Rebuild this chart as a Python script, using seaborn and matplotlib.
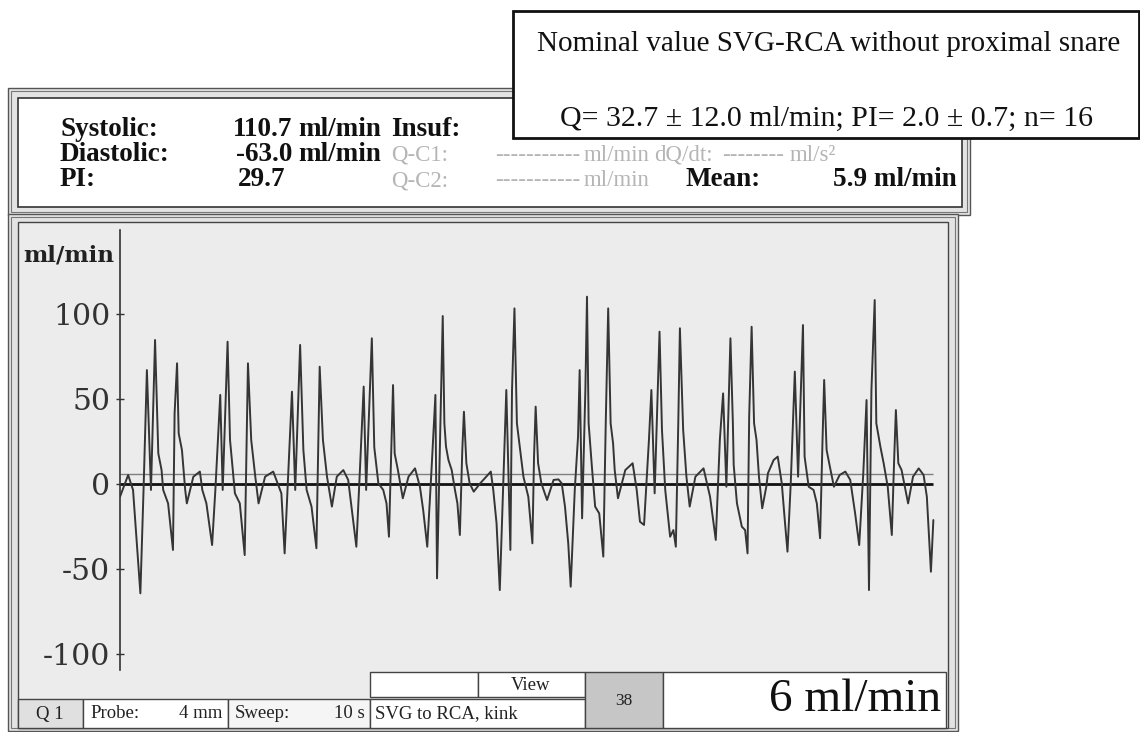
import numpy as np
import pandas as pd
import seaborn as sns
import matplotlib
matplotlib.use("Agg")
import matplotlib.pyplot as plt
from matplotlib.patches import Rectangle
from matplotlib.transforms import Bbox, TransformedBbox

# flow trace (10 s sweep)
time_s = [
    0.00, 0.10, 0.16, 0.25, 0.29, 0.33, 0.37, 0.38, 0.43, 0.45, 0.47, 0.51, 0.53, 0.59, 0.65, 0.67,
    0.70, 0.72, 0.76, 0.80, 0.82, 0.90, 0.98, 1.01, 1.06, 1.13, 1.17, 1.23, 1.26, 1.32, 1.35, 1.41,
    1.47, 1.53, 1.57, 1.61, 1.66, 1.70, 1.78, 1.88, 1.98, 2.02, 2.11, 2.15, 2.21, 2.25, 2.29, 2.35,
    2.41, 2.45, 2.49, 2.54, 2.60, 2.66, 2.74, 2.80, 2.84, 2.90, 2.94, 2.99, 3.02, 3.09, 3.12, 3.17,
    3.23, 3.27, 3.30, 3.33, 3.35, 3.37, 3.41, 3.47, 3.54, 3.62, 3.68, 3.72, 3.77, 3.82, 3.87, 3.89,
    3.93, 3.96, 3.98, 4.00, 4.03, 4.07, 4.11, 4.14, 4.17, 4.20, 4.22, 4.25, 4.29, 4.34, 4.42, 4.55,
    4.58, 4.62, 4.66, 4.70, 4.74, 4.79, 4.81, 4.84, 4.87, 4.91, 4.95, 5.01, 5.06, 5.08, 5.10, 5.13,
    5.17, 5.24, 5.32, 5.38, 5.42, 5.46, 5.50, 5.53, 5.58, 5.62, 5.64, 5.67, 5.71, 5.73, 5.75, 5.79,
    5.83, 5.88, 5.93, 5.96, 5.99, 6.02, 6.05, 6.07, 6.11, 6.20, 6.29, 6.34, 6.38, 6.43, 6.49, 6.52,
    6.56, 6.62, 6.65, 6.69, 6.75, 6.79, 6.82, 6.85, 6.87, 6.91, 6.95, 6.99, 7.06, 7.16, 7.24, 7.31,
    7.36, 7.40, 7.44, 7.49, 7.52, 7.53, 7.57, 7.63, 7.67, 7.70, 7.72, 7.75, 7.78, 7.81, 7.84, 7.88,
    7.93, 7.95, 8.02, 8.07, 8.12, 8.16, 8.19, 8.23, 8.28, 8.32, 8.38, 8.40, 8.45, 8.51, 8.55, 8.59,
    8.62, 8.64, 8.67, 8.71, 8.76, 8.83, 8.90, 8.96, 9.02, 9.07, 9.12, 9.16, 9.19, 9.22, 9.26, 9.28,
    9.33, 9.37, 9.42, 9.47, 9.50, 9.52, 9.55, 9.59, 9.67, 9.73, 9.80, 9.86, 9.90, 9.95, 9.98,
]
flow = [
    -7.5, 5.3, -3.5, -64.3, -1.6, 67.0, 10.2, -3.5, 84.7, 51.4, 18.0, 8.2, -3.5, -11.4, -38.8, 41.6,
    71.0, 29.8, 20.0, -3.5, -11.4, 4.3, 7.3, -3.5, -11.4, -35.9, -3.5, 52.4, -3.5, 83.7, 25.9, -5.5,
    -11.4, -41.8, 71.0, 25.9, 4.3, -11.4, 4.3, 7.3, -5.5, -40.8, 54.3, -3.5, 81.8, 20.0, -3.5, -13.3,
    -37.8, 69.0, 25.9, 4.3, -13.3, 4.3, 8.2, 2.4, -13.3, -36.9, 4.3, 57.3, -3.5, 85.7, 21.6, 0.4,
    -3.5, -11.4, -31.0, 23.9, 58.2, 18.0, 8.2, -8.4, 4.3, 9.2, -1.6, -15.3, -36.9, 6.3, 52.4, -55.5,
    31.8, 98.8, 35.7, 22.0, 14.1, 8.2, -3.5, -11.4, -30.0, 20.0, 42.5, 12.2, 0.4, -4.5, 0.4, 7.3,
    -3.5, -23.0, -62.4, -3.5, 55.3, -38.8, 55.3, 103.3, 35.7, 20.0, 4.3, -7.5, -34.9, 15.7, 45.5, 12.2,
    0.4, -9.4, 2.4, 2.7, 0.4, -13.3, -34.9, -60.4, -3.5, 27.8, 67.0, -20.2, 55.3, 110.2, 35.7, 10.2,
    -13.3, -17.3, -42.7, 35.7, 103.3, 35.7, 23.9, 8.2, -8.4, 8.2, 12.2, -3.5, -22.2, -24.1, 25.9, 55.3,
    -5.5, 89.6, 31.8, -3.5, -31.0, -27.1, -36.9, 35.7, 91.6, 31.8, 4.3, -13.3, 4.3, 9.2, -7.5, -32.9,
    25.9, 53.3, -1.6, 85.7, 35.7, 11.2, -11.4, -25.1, -27.1, -40.8, 39.6, 92.5, 35.7, 25.9, 4.3, -14.3,
    -1.6, 6.3, 14.1, 16.1, 0.4, -23.1, -39.8, 0.4, 66.1, 4.3, 93.5, 16.1, -1.6, -3.5, -11.4, -31.9,
    25.9, 61.2, 20.0, 10.2, -1.6, 5.3, 7.3, 2.4, -17.3, -35.9, 6.3, 49.4, -62.4, 55.3, 108.2, 35.7,
    21.9, 12.2, -1.6, -30.0, 16.1, 43.5, 12.2, 8.2, -11.4, 4.3, 9.2, 5.3, -7.5, -51.6, -21.2,
]
y_ticks = [-100, -50, 0, 50, 100]

systolic = "110.7"
diastolic = "-63.0"
pi_value = "29.7"
mean_flow = 5.9
nominal_title = "Nominal value SVG-RCA without proximal snare"
nominal_stats = "Q= 32.7 \u00b1 12.0 ml/min; PI= 2.0 \u00b1 0.7; n= 16"

df = pd.DataFrame({"time_s": time_s, "flow": flow})

sns.set_style("white")
plt.rcParams["font.family"] = ["Liberation Serif", "DejaVu Serif"]

W, H = 1140, 732
fig = plt.figure(figsize=(W / 100, H / 100), dpi=100)
fig.patch.set_facecolor("white")


def box(x0, y0, x1, y1, fc="white", ec="#444444", lw=1.0, z=0.5):
    r = Rectangle((x0 / W, 1 - y1 / H), (x1 - x0) / W, (y1 - y0) / H,
                  transform=fig.transFigure, facecolor=fc, edgecolor=ec, linewidth=lw, zorder=z)
    fig.add_artist(r)
    return r


def txt(x, y, s, **kw):
    kw.setdefault("zorder", 3)
    return fig.text(x / W, 1 - y / H, s, **kw)


# ---- measurement panel ----
box(8, 88, 970, 215, fc="#e3e3e3", ec="#555555", lw=1.0, z=0.2)
box(11, 91, 967, 212, fc="none", ec="#777777", lw=0.8, z=0.3)
box(18, 98, 962, 207, fc="white", ec="#333333", lw=1.2, z=0.4)

bold = dict(fontsize=19.5, fontweight="bold", color="#111111", va="baseline")
light = dict(fontsize=16.5, color="#b5b5b5", va="baseline")
txt(60, 136, "Systolic:", **bold)
txt(60, 161, "Diastolic:", **bold)
txt(60, 186, "PI:", **bold)
txt(292, 136, systolic, ha="right", **bold)
txt(292, 161, diastolic, ha="right", **bold)
txt(285, 186, pi_value, ha="right", **bold)
txt(298, 136, "ml/min", **bold)
txt(298, 161, "ml/min", **bold)
txt(391, 136, "Insuf:", **bold)
txt(391, 161, "Q-C1:", **light)
txt(391, 186, "Q-C2:", **light)
txt(495, 161, "-----------", **light)
txt(584, 161, "ml/min", **light)
txt(654, 161, "dQ/dt:", **light)
txt(722, 161, "--------", **light)
txt(790, 161, "ml/s\u00b2", **light)
txt(495, 186, "-----------", **light)
txt(584, 186, "ml/min", **light)
txt(686, 186, "Mean:", **bold)
mtxt = txt(833, 186, f"{mean_flow} ml/min", **bold)
clip = TransformedBbox(Bbox([[18 / W, 1 - 207 / H], [962 / W, 1 - 98 / H]]), fig.transFigure)
mtxt.set_clip_box(clip)
mtxt.set_clip_on(True)

# ---- nominal value box ----
box(513, 11, 1139, 138, fc="white", ec="#111111", lw=2.0, z=5)
txt(537, 51, nominal_title, fontsize=21, color="#111111", va="baseline", zorder=6)
txt(560, 126, nominal_stats, fontsize=21.5, color="#111111", va="baseline", zorder=6)

# ---- graph panel ----
box(8, 214, 958, 731, fc="#e3e3e3", ec="#555555", lw=1.0, z=0.2)
box(11, 217, 955, 728, fc="none", ec="#777777", lw=0.8, z=0.3)
box(18, 222, 948, 728, fc="#ececec", ec="#444444", lw=1.0, z=0.4)

ax_x0, ax_x1, ax_y0, ax_y1 = 120, 945, 230, 670
ax = fig.add_axes([ax_x0 / W, 1 - ax_y1 / H, (ax_x1 - ax_x0) / W, (ax_y1 - ax_y0) / H], zorder=2)
ax.set_facecolor("none")

ax.hlines(0, time_s[0], time_s[-1], color="#111111", linewidth=2.0, zorder=2)
ax.hlines(mean_flow, time_s[0], time_s[-1], color="#808080", linewidth=1.0, zorder=2)
sns.lineplot(data=df, x="time_s", y="flow", ax=ax, color="#353535", linewidth=1.4,
             estimator=None, sort=False, zorder=3)

px_per_s = 81.5
ax.set_xlim(0, (ax_x1 - ax_x0) / px_per_s)
ax.set_ylim((484 - ax_y1) / 1.7, (484 - ax_y0) / 1.7)
ax.set_yticks(y_ticks)
ax.set_yticklabels([str(v) for v in y_ticks], family="DejaVu Serif", fontsize=21.5, color="#333333")
ax.set_xticks([])
ax.tick_params(axis="y", direction="inout", length=6, width=1, color="#333333", pad=4, left=True)
for side in ["top", "right", "bottom"]:
    ax.spines[side].set_visible(False)
ax.spines["left"].set_color("#333333")
ax.spines["left"].set_linewidth(1.2)
ax.set_xlabel("")
ax.set_ylabel("")

txt(69, 256, "ml/min", family="DejaVu Serif", fontsize=16.5, fontweight="bold",
    color="#222222", ha="center", va="center")

# ---- status bar ----
box(18, 699, 83, 728, fc="#e0e0e0", ec="#444444", lw=1.0, z=2.5)
box(83, 699, 228, 728, fc="white", ec="#444444", lw=1.0, z=2.5)
box(228, 699, 370, 728, fc="#f5f5f5", ec="#444444", lw=1.0, z=2.5)
box(370, 699, 585, 728, fc="white", ec="#444444", lw=1.0, z=2.5)
box(370, 672, 478, 697, fc="white", ec="#444444", lw=1.0, z=2.5)
box(478, 672, 585, 697, fc="white", ec="#444444", lw=1.0, z=2.5)
box(585, 672, 663, 728, fc="#c6c6c6", ec="#444444", lw=1.0, z=2.5)
box(663, 672, 946, 728, fc="white", ec="#444444", lw=1.0, z=2.5)

sb = dict(fontsize=13.5, color="#222222", va="center")
txt(50, 714, "Q 1", ha="center", **sb)
txt(90, 714, "Probe:", **sb)
txt(222, 714, "4 mm", ha="right", **sb)
txt(235, 714, "Sweep:", **sb)
txt(365, 714, "10 s", ha="right", **sb)
txt(375, 714, "SVG to RCA, kink", **sb)
txt(531, 685, "View", ha="center", **sb)
txt(624, 701, "38", ha="center", fontsize=12.5, color="#222222", va="center")
txt(941, 700, "6 ml/min", ha="right", va="center", fontsize=34, color="#111111")

fig.savefig("out.png", dpi=100)
